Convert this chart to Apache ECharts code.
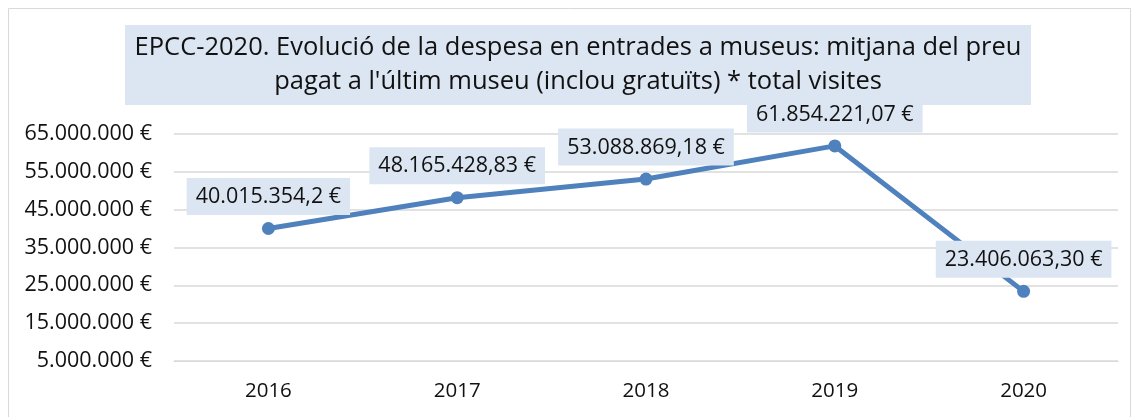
<!DOCTYPE html>
<html>
<head>
<meta charset="utf-8">
<script src="https://cdn.jsdelivr.net/npm/echarts@6/dist/echarts.min.js"></script>
<style>
  html, body { margin: 0; padding: 0; background: #fff; }
  #main { width: 1139px; height: 417px; }
</style>
</head>
<body>
<div id="main"></div>
<script>
// dades llegides del grafic
var anys = ['2016', '2017', '2018', '2019', '2020'];
var despesa = [40015354.2, 48165428.83, 53088869.18, 61854221.07, 23406063.30];
var etiquetes = ['40.015.354,2 €', '48.165.428,83 €', '53.088.869,18 €', '61.854.221,07 €', '23.406.063,30 €'];
var titol = "EPCC-2020. Evolució de la despesa en entrades a museus: mitjana del preu\npagat a l'últim museu (inclou gratuïts) * total visites";

var font = 'Open Sans';

function formatEuro(v) {
  return String(Math.round(v)).replace(/\B(?=(\d{3})+(?!\d))/g, '.') + ' €';
}

var chartDom = document.getElementById('main');
var myChart = echarts.init(chartDom);

var option = {
  animation: false,
  graphic: [
    {
      type: 'rect',
      shape: { x: 8.5, y: 8.5, width: 1122, height: 430 },
      style: { fill: 'none', stroke: '#d9d9d9', lineWidth: 1 },
      silent: true
    },
    {
      type: 'rect',
      shape: { x: 125, y: 25, width: 906, height: 80 },
      style: { fill: '#dce6f2' },
      silent: true
    },
    {
      type: 'text',
      x: 578,
      y: 65,
      style: {
        text: titol,
        fill: '#111',
        font: '25.5px "' + font + '"',
        align: 'center',
        verticalAlign: 'middle',
        lineHeight: 34
      },
      silent: true
    }
  ],
  grid: {
    left: 174,
    right: 21,
    top: 134,
    bottom: 56
  },
  xAxis: {
    type: 'category',
    data: anys,
    axisLine: { lineStyle: { color: '#d9d9d9', width: 1 } },
    axisTick: { show: false },
    axisLabel: { color: '#111', fontFamily: font, fontSize: 20.5, margin: 20 }
  },
  yAxis: {
    type: 'value',
    min: 5000000,
    max: 65000000,
    interval: 10000000,
    axisLine: { show: false },
    axisTick: { show: false },
    splitLine: { lineStyle: { color: '#d9d9d9', width: 1.5 } },
    axisLabel: {
      color: '#111',
      fontFamily: font,
      fontSize: 21.5,
      margin: 22,
      formatter: formatEuro
    }
  },
  series: [
    {
      type: 'line',
      data: despesa,
      symbol: 'circle',
      symbolSize: 13,
      lineStyle: { color: '#4f81bd', width: 5 },
      itemStyle: { color: '#4f81bd' },
      label: {
        show: true,
        position: 'top',
        distance: 7,
        color: '#111',
        fontFamily: font,
        fontSize: 21.5,
        backgroundColor: '#dce6f2',
        padding: [8, 9, 7, 9],
        formatter: function (p) { return etiquetes[p.dataIndex]; }
      }
    }
  ]
};

option && myChart.setOption(option);
</script>
</body>
</html>
